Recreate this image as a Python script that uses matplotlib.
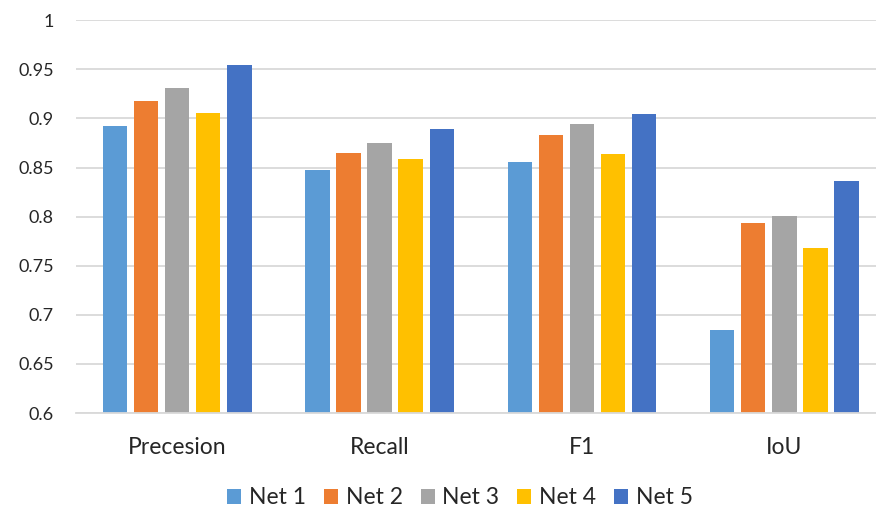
import matplotlib
matplotlib.use("Agg")
import matplotlib.pyplot as plt
import numpy as np

plt.rcParams['font.family'] = ['Lato', 'DejaVu Sans']

categories = ["Precesion", "Recall", "F1", "IoU"]
series_names = ["Net 1", "Net 2", "Net 3", "Net 4", "Net 5"]
net1 = [0.892, 0.848, 0.856, 0.685]
net2 = [0.918, 0.865, 0.883, 0.794]
net3 = [0.931, 0.875, 0.894, 0.801]
net4 = [0.906, 0.859, 0.864, 0.768]
net5 = [0.954, 0.889, 0.905, 0.836]
yticks = [0.6, 0.65, 0.7, 0.75, 0.8, 0.85, 0.9, 0.95, 1]
ytick_labels = ["0.6", "0.65", "0.7", "0.75", "0.8", "0.85", "0.9", "0.95", "1"]

colors = ["#5B9BD5", "#ED7D31", "#A5A5A5", "#FFC000", "#4472C4"]
values = [net1, net2, net3, net4, net5]

W, H = 876, 512
fig = plt.figure(figsize=(W / 100, H / 100), dpi=100)
left, right, bottom, top = 76, 885.5, 413, 20.3
ax = fig.add_axes([left / W, 1 - bottom / H, (right - left) / W, (bottom - top) / H])

x = np.arange(len(categories))
step = 0.1537
width = 0.1205
for i, (name, vals, c) in enumerate(zip(series_names, values, colors)):
    ax.bar(x + (i - 2) * step, vals, width=width, color=c, label=name, zorder=3)

ax.set_xlim(-0.5, len(categories) - 0.5)
ax.set_ylim(0.6, 1.0)
ax.set_yticks(yticks)
ax.set_yticklabels(ytick_labels)
ax.set_xticks(x)
ax.set_xticklabels(categories)
ax.grid(axis='y', color='#D9D9D9', linewidth=1.3, zorder=0)
for s in ['top', 'right', 'left']:
    ax.spines[s].set_visible(False)
ax.spines['bottom'].set_color('#D9D9D9')
ax.spines['bottom'].set_linewidth(1.3)
ax.spines['bottom'].set_zorder(4)
ax.tick_params(axis='y', length=0, labelsize=13, labelcolor='#262626', pad=16)
ax.tick_params(axis='x', length=0, labelsize=16.5, labelcolor='#262626', pad=17)

handles, labels = ax.get_legend_handles_labels()
fig.legend(handles, labels, loc='center', bbox_to_anchor=(460 / W, 1 - 498 / H),
           ncol=5, frameon=False, fontsize=16.5, handlelength=0.61, handleheight=0.61,
           handletextpad=0.34, columnspacing=0.78, labelcolor='#262626',
           borderpad=0, borderaxespad=0)

fig.savefig("out.png", dpi=100)
